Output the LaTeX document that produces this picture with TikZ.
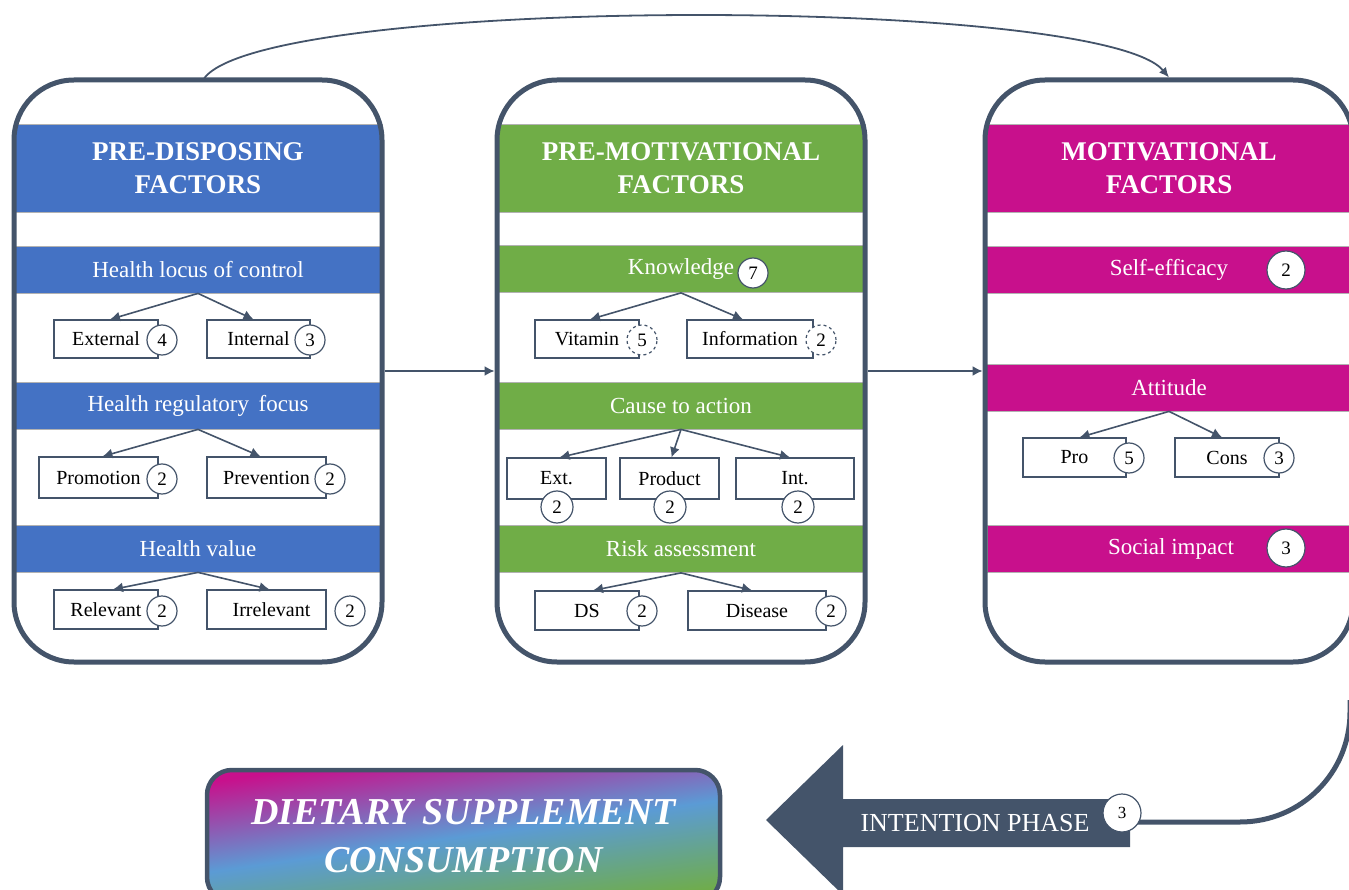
\documentclass[tikz,border=0pt]{standalone}
\usepackage{fontspec}
\setmainfont{Liberation Serif}
\usetikzlibrary{arrows.meta,calc,shadings}
\definecolor{slate}{HTML}{44546A}
\definecolor{pblue}{HTML}{4472C4}
\definecolor{pgreen}{HTML}{70AD47}
\definecolor{pmag}{HTML}{C8108C}
\definecolor{lblue}{HTML}{5B9BD5}
\tikzset{
 panel/.style={draw=slate, line width=5pt, rounded corners=60pt, minimum width=368pt, minimum height=582pt, inner sep=0pt},
 band/.style={draw=gray!60, line width=0.8pt, text=white, font=\fontsize{23}{27}\selectfont, inner sep=0pt, minimum width=368pt, minimum height=47pt},
 head/.style={band, minimum height=88pt, font=\fontsize{27}{33}\selectfont\bfseries, align=center},
 sub/.style={draw=slate, line width=1.2pt, fill=white, font=\fontsize{20}{24}\selectfont, inner sep=0pt, minimum height=39pt},
 num/.style={circle, draw=slate, line width=1.2pt, fill=white, font=\fontsize{19}{22}\selectfont, inner sep=0pt, minimum size=30pt},
 dnum/.style={num, dashed},
 bignum/.style={num, minimum size=38pt},
 link/.style={draw=slate, line width=1.6pt, -{Latex[length=10pt,width=10pt]}},
}
\begin{document}
\begin{tikzpicture}[x=1pt,y=-1pt]
\useasboundingbox (0,0) rectangle (1349,890);

% ---------- bands ----------
\node[head, fill=pblue]  (H1) at (198,168) {PRE-DISPOSING\\FACTORS};
\node[band, fill=pblue]  (B11) at (198,269.5) {Health locus of control};
\node[band, fill=pblue]  (B12) at (198,405.5) {Health regulatory\, focus};
\node[band, fill=pblue]  (B13) at (198,548.5) {Health value};

\node[head, fill=pgreen] (H2) at (681,168) {PRE-MOTIVATIONAL\\FACTORS};
\node[band, fill=pgreen] (B21) at (681,269) {Knowledge};
\node[band, fill=pgreen] (B22) at (681,405.5) {Cause to action};
\node[band, fill=pgreen] (B23) at (681,549) {Risk assessment};

\node[head, fill=pmag]   (H3) at (1169,168) {MOTIVATIONAL\\FACTORS};
\node[band, fill=pmag]   (B31) at (1169,269.5) {Self-efficacy};
\node[band, fill=pmag]   (B32) at (1169,387.5) {Attitude};
\node[band, fill=pmag]   (B33) at (1171,549) {Social impact};

% ---------- panels ----------
\node[panel] (P1) at (198,371) {};
\node[panel] (P2) at (681,371) {};
\node[panel] (P3) at (1169,371) {};

% ---------- left panel boxes ----------
\node[sub, minimum width=104pt, minimum height=38pt] (E1) at (106,339) {External};
\node[sub, minimum width=103pt, minimum height=38pt] (E2) at (258.5,339) {Internal};
\node[sub, minimum width=119pt, minimum height=41pt] (E3) at (98.5,477.5) {Promotion};
\node[sub, minimum width=119pt, minimum height=41pt] (E4) at (266.5,477.5) {Prevention};
\node[sub, minimum width=104pt] (E5) at (106,609.5) {Relevant};
\node[sub, minimum width=119pt] (E6) at (266.5,609.5) {\hspace*{10pt}Irrelevant};
\node[num] (C1) at (162,340) {4};
\node[num] (C2) at (310,340) {3};
\node[num] (C3) at (162,479) {2};
\node[num] (C4) at (330,479) {2};
\node[num] (C5) at (162,611) {2};
\node[num] (C6) at (350,611) {2};

% ---------- middle panel boxes ----------
\node[sub, minimum width=104pt, minimum height=38pt] (M1) at (587,339) {Vitamin};
\node[sub, minimum width=126pt, minimum height=38pt] (M2) at (750,339) {Information};
\node[sub, minimum width=99pt, minimum height=41pt] (M3) at (556.5,478.5) {Ext.};
\node[sub, minimum width=99pt, minimum height=41pt] (M4) at (669.5,478.5) {Product};
\node[sub, minimum width=118pt, minimum height=41pt] (M5) at (795,478.5) {Int.};
\node[sub, minimum width=104pt] (M6) at (587,610.5) {DS};
\node[sub, minimum width=138pt] (M7) at (757,610.5) {Disease};
\node[num] (K7) at (753,273) {7};
\node[dnum] (D1) at (642,340) {5};
\node[dnum] (D2) at (821,340) {2};
\node[num, minimum size=32pt] (G1) at (557,507) {2};
\node[num, minimum size=32pt] (G2) at (670,507) {2};
\node[num, minimum size=32pt] (G3) at (798,507) {2};
\node[num] (G4) at (642,611) {2};
\node[num] (G5) at (831,611) {2};

% ---------- right panel boxes ----------
\node[sub, minimum width=103pt] (R1) at (1074.5,457.5) {Pro};
\node[sub, minimum width=104pt] (R2) at (1227,457.5) {Cons};
\node[num] (S1) at (1129,458) {5};
\node[num] (S2) at (1279,458) {3};
\node[bignum] (S3) at (1286,270) {2};
\node[bignum] (S4) at (1286,548) {3};

% ---------- links inside panels ----------
\draw[link] (B11.south) -- ($(E1.north)+(4,0)$);
\draw[link] (B11.south) -- ($(E2.north)+(-5,0)$);
\draw[link] (B12.south) -- ($(E3.north)+(4,0)$);
\draw[link] (B12.south) -- ($(E4.north)+(-6,0)$);
\draw[link] (B13.south) -- ($(E5.north)+(7,0)$);
\draw[link] (B13.south) -- ($(E6.north)+(3,0)$);

\draw[link] (B21.south) -- ($(M1.north)+(3,0)$);
\draw[link] (B21.south) -- ($(M2.north)+(-7,0)$);
\draw[link] (B22.south) -- ($(M3.north)+(3,0)$);
\draw[link] (B22.south) -- ($(M4.north)+(2,0)$);
\draw[link] (B22.south) -- ($(M5.north)+(-5,0)$);
\draw[link] (B23.south) -- ($(M6.north)+(6,0)$);
\draw[link] (B23.south) -- ($(M7.north)+(-5,0)$);

\draw[link] (B32.south) -- ($(R1.north)+(5,0)$);
\draw[link] (B32.south) -- ($(R2.north)+(-5,0)$);

% ---------- links between panels ----------
\draw[link] (P1.east) -- (P2.west);
\draw[link] (P2.east) -- (P3.west);
\draw[draw=slate, line width=1.8pt, -{Latex[length=10pt,width=9pt]}]
  ($(P1.north)+(5,2.5)$) .. controls (255,-5) and (1100,-5) .. (P3.north);

% ---------- intention phase ----------
\coordinate (pe) at (1350,700);
\draw[slate, line width=5pt] (pe) -- (1350,712) .. controls (1350,773) and (1301,822) .. (1240,822) -- (1130,822);
\fill[slate] (766,820) -- (843,745) -- (843,799) -- (1130,799) -- (1130,847) -- (843,847) -- (843,895) -- cycle;
\node[text=white, font=\fontsize{26}{30}\selectfont] (IP) at (975,823) {INTENTION PHASE};
\node[bignum, font=\fontsize{17}{20}\selectfont] (N3) at (1122,813) {3};

% ---------- dietary supplement consumption ----------
\node[draw=slate, line width=4.5pt, rounded corners=25pt, minimum width=513pt, minimum height=132pt,
  top color=pmag, bottom color=pgreen, middle color=lblue, shading angle=8,
  text=white, align=center, font=\fontsize{38}{48}\selectfont\bfseries\itshape] (DSC) at (463.5,836)
  {DIETARY SUPPLEMENT\\CONSUMPTION};
\end{tikzpicture}
\end{document}
